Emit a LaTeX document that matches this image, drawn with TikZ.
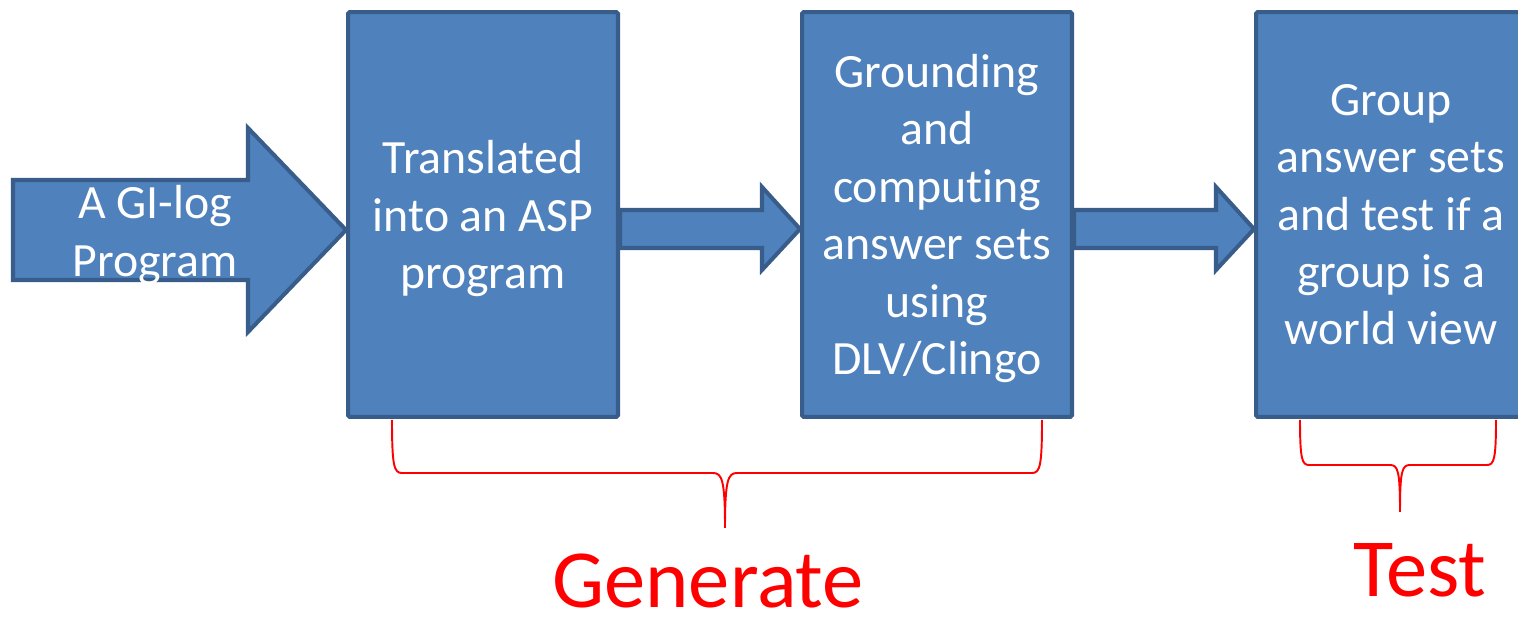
\documentclass[tikz,border=0pt]{standalone}
\usepackage{fontspec}
\setmainfont{Carlito}[Ligatures=NoCommon]
\definecolor{boxfill}{HTML}{4F81BD}
\definecolor{boxline}{HTML}{385D8A}
\tikzset{
  stage/.style={draw=boxline, fill=boxfill, line width=2.3pt, rounded corners=1pt,
    minimum width=5.4cm, minimum height=8.1cm, align=center, text depth=0pt,
    text=white, font=\fontsize{27.2}{32.7}\selectfont},
  inlabel/.style={text=white, align=center, font=\fontsize{27.2}{32.7}\selectfont},
  flow/.style={draw=boxline, fill=boxfill, line width=2.3pt, line join=miter},
  brace/.style={draw=red, line width=1.1pt},
  phase/.style={text=red, inner sep=0pt, text depth=0pt, font=\fontsize{47}{50}\selectfont}
}

\begin{document}
\begin{tikzpicture}[x=0.02cm, y=-0.02cm]
    \clip (0,0) rectangle (1518,617);
    \fill[white] (0,0) rectangle (1518,617);

    \node[stage] (trans) at (483,214.5) {Translated\\into an ASP\\program};
    \node[stage] (ground) at (937,214.5) {Grounding\\and\\computing\\answer sets\\using\\DLV/Clingo};
    \node[stage] (group) at (1391,214.5) {Group\\answer sets\\and test if a\\group is a\\world view};

    \draw[flow] (13,180) -- (248,180) -- (248,128) -- (trans.west |- 0,230)
        -- (248,332) -- (248,280) -- (13,280) -- cycle;
    \node[inlabel] (gilog) at (155,235) {A GI-log\\Program};
    \draw[flow] (trans.east |- 0,210) -- (762,210) -- (762,187) -- (ground.west |- 0,229)
        -- (762,270) -- (762,248) -- (trans.east |- 0,248) -- cycle;
    \draw[flow] (ground.east |- 0,210) -- (1216,210) -- (1216,187) -- (group.west |- 0,229)
        -- (1216,270) -- (1216,248) -- (ground.east |- 0,248) -- cycle;

    \draw[brace] (392,420) .. controls (392,466) and (394,473) .. (402,473) -- (713,473)
        .. controls (722,473) and (725,480) .. (725,528)
        .. controls (725,480) and (728,473) .. (737,473) -- (1032,473)
        .. controls (1040,473) and (1042,466) .. (1042,420);
    \draw[brace] (1300,420) .. controls (1300,459) and (1302,465) .. (1309,465) -- (1390,465)
        .. controls (1398,465) and (1400,471) .. (1400,512)
        .. controls (1400,471) and (1402,465) .. (1410,465) -- (1487,465)
        .. controls (1494,465) and (1496,459) .. (1496,420);

    \node[phase, anchor=base] (gen) at (708,608) {Generate};
    \node[phase, anchor=base] (test) at (1420,597) {Test};
\end{tikzpicture}
\end{document}
